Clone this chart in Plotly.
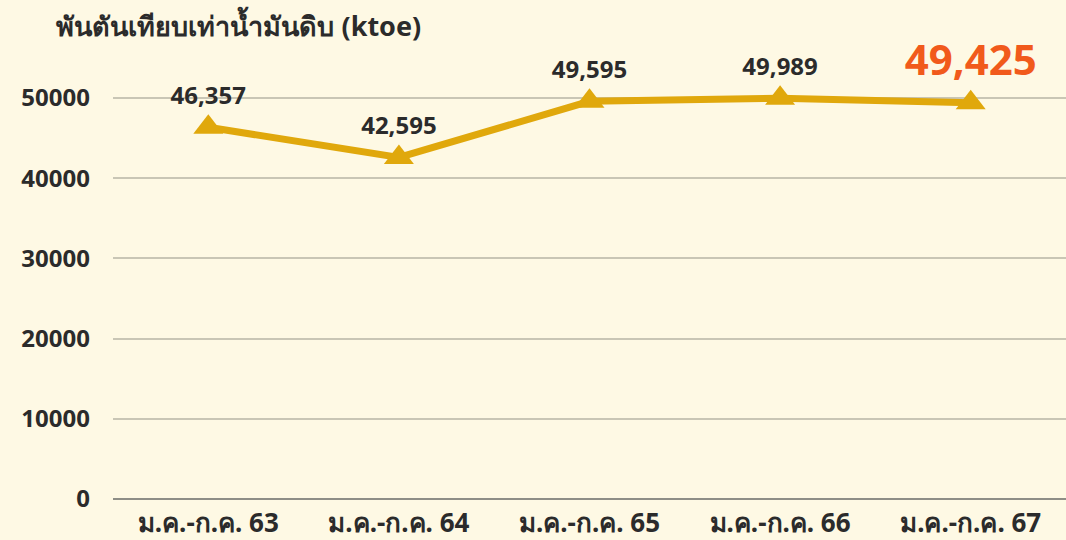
import plotly.graph_objects as go

categories = ["ม.ค.-ก.ค. 63", "ม.ค.-ก.ค. 64", "ม.ค.-ก.ค. 65", "ม.ค.-ก.ค. 66", "ม.ค.-ก.ค. 67"]
values = [46357, 42595, 49595, 49989, 49425]
labels = ["46,357", "42,595", "49,595", "49,989", "49,425"]
y_ticks = [0, 10000, 20000, 30000, 40000, 50000]

FONT = "Noto Sans, DejaVu Sans, sans-serif"
fig = go.Figure()
fig.add_trace(go.Scatter(
    x=categories, y=values, mode="lines+markers+text",
    line=dict(color="#E0A80C", width=7),
    marker=dict(symbol="triangle-up", size=26, color="#E0A80C"),
    text=labels, textposition="top center",
    textfont=dict(family=FONT, size=[24, 24, 24, 24, 42],
                  color=["#2b2b2b"] * 4 + ["#F15A1B"], weight="bold"),
    cliponaxis=False, hoverinfo="skip",
))
fig.update_layout(
    width=1066, height=540,
    paper_bgcolor="#FEF9E4", plot_bgcolor="#FEF9E4",
    margin=dict(l=113, r=0, t=58, b=39),
    showlegend=False,
    font=dict(family=FONT, color="#2b2b2b"),
    title=dict(text="<b>พันตันเทียบเท่าน้ำมันดิบ (ktoe)</b>", x=0.053, xanchor="left",
               y=0.95, yanchor="middle", font=dict(size=27, color="#2b2b2b")),
)
fig.update_xaxes(type="category", range=[-0.5, 4.5], showgrid=False, ticks="",
                 tickfont=dict(size=26, weight="bold", color="#2b2b2b"), ticklabelstandoff=6)
fig.update_yaxes(range=[0, 55000], tickvals=y_ticks, ticktext=[str(v) for v in y_ticks],
                 showgrid=True, gridcolor="#C9C6B5", gridwidth=1.5,
                 zeroline=True, zerolinecolor="#8E8E86", zerolinewidth=2,
                 tickfont=dict(size=24, weight="bold", color="#2b2b2b"), ticklabelstandoff=22)
fig.write_html("out.html", config={"displayModeBar": False},
               post_script="document.body.style.margin='0';document.body.style.background='#FEF9E4';")
